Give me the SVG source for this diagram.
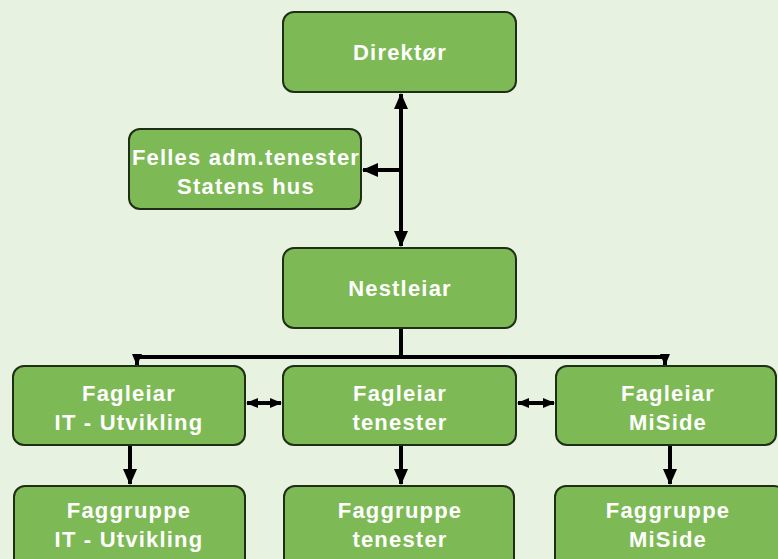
<svg xmlns="http://www.w3.org/2000/svg" width="778" height="559" viewBox="0 0 778 559">
<style>
.box{fill:#7dba55;stroke:#1f2e16;stroke-width:2}
.t{font-family:"Liberation Sans",Arial,sans-serif;font-weight:bold;font-size:22px;fill:#ffffff;text-anchor:middle;letter-spacing:1.2px}
.c{fill:none;stroke:#000;stroke-width:4}
</style>
<defs>
<marker id="ah" markerUnits="userSpaceOnUse" markerWidth="16" markerHeight="16" viewBox="0 0 16 16" refX="15" refY="8" orient="auto-start-reverse">
<path d="M0,1 L16,8 L0,15 Z" fill="#000"/>
</marker>
<marker id="as" markerUnits="userSpaceOnUse" markerWidth="12" markerHeight="12" viewBox="0 0 12 12" refX="11" refY="6" orient="auto-start-reverse">
<path d="M0,1 L12,6 L0,11 Z" fill="#000"/>
</marker>
</defs>
<rect width="778" height="559" fill="#e8f2e0"/>
<g id="connectors">
<path class="c" d="M401,94 V246" marker-start="url(#ah)" marker-end="url(#ah)"/>
<path class="c" d="M401,170 H363" marker-end="url(#ah)"/>
<path class="c" d="M401,328 V357 H137 V365" marker-end="url(#as)"/>
<path class="c" d="M401,357 H665 V365" marker-end="url(#as)"/>
<path class="c" d="M247,403 H281" marker-start="url(#as)" marker-end="url(#as)"/>
<path class="c" d="M518,403 H554" marker-start="url(#as)" marker-end="url(#as)"/>
<path class="c" d="M130,446 V484" marker-end="url(#ah)"/>
<path class="c" d="M401,446 V484" marker-end="url(#ah)"/>
<path class="c" d="M670,446 V484" marker-end="url(#ah)"/>
</g>
<g id="direktor">
<rect class="box" x="283" y="12" width="233" height="80" rx="11"/>
<text class="t" x="400" y="60">Direktør</text>
</g>
<g id="felles">
<rect class="box" x="129" y="129" width="232" height="80" rx="11"/>
<text class="t" x="246" y="165">Felles adm.tenester</text>
<text class="t" x="246" y="194">Statens hus</text>
</g>
<g id="nestleiar">
<rect class="box" x="283" y="248" width="233" height="80" rx="11"/>
<text class="t" x="400" y="296">Nestleiar</text>
</g>
<g id="fagleiar-it">
<rect class="box" x="13" y="366" width="232" height="79" rx="11"/>
<text class="t" x="129" y="401">Fagleiar</text>
<text class="t" x="129" y="430">IT - Utvikling</text>
</g>
<g id="fagleiar-tenester">
<rect class="box" x="283" y="366" width="233" height="79" rx="11"/>
<text class="t" x="400" y="401">Fagleiar</text>
<text class="t" x="400" y="430">tenester</text>
</g>
<g id="fagleiar-miside">
<rect class="box" x="556" y="366" width="220" height="79" rx="11"/>
<text class="t" x="668" y="401">Fagleiar</text>
<text class="t" x="668" y="430">MiSide</text>
</g>
<g id="faggruppe-it">
<rect class="box" x="14" y="486" width="231" height="90" rx="11"/>
<text class="t" x="129" y="518">Faggruppe</text>
<text class="t" x="129" y="547">IT - Utvikling</text>
</g>
<g id="faggruppe-tenester">
<rect class="box" x="284" y="486" width="230" height="90" rx="11"/>
<text class="t" x="400" y="518">Faggruppe</text>
<text class="t" x="400" y="547">tenester</text>
</g>
<g id="faggruppe-miside">
<rect class="box" x="555" y="486" width="230" height="90" rx="11"/>
<text class="t" x="668" y="518">Faggruppe</text>
<text class="t" x="668" y="547">MiSide</text>
</g>
</svg>
